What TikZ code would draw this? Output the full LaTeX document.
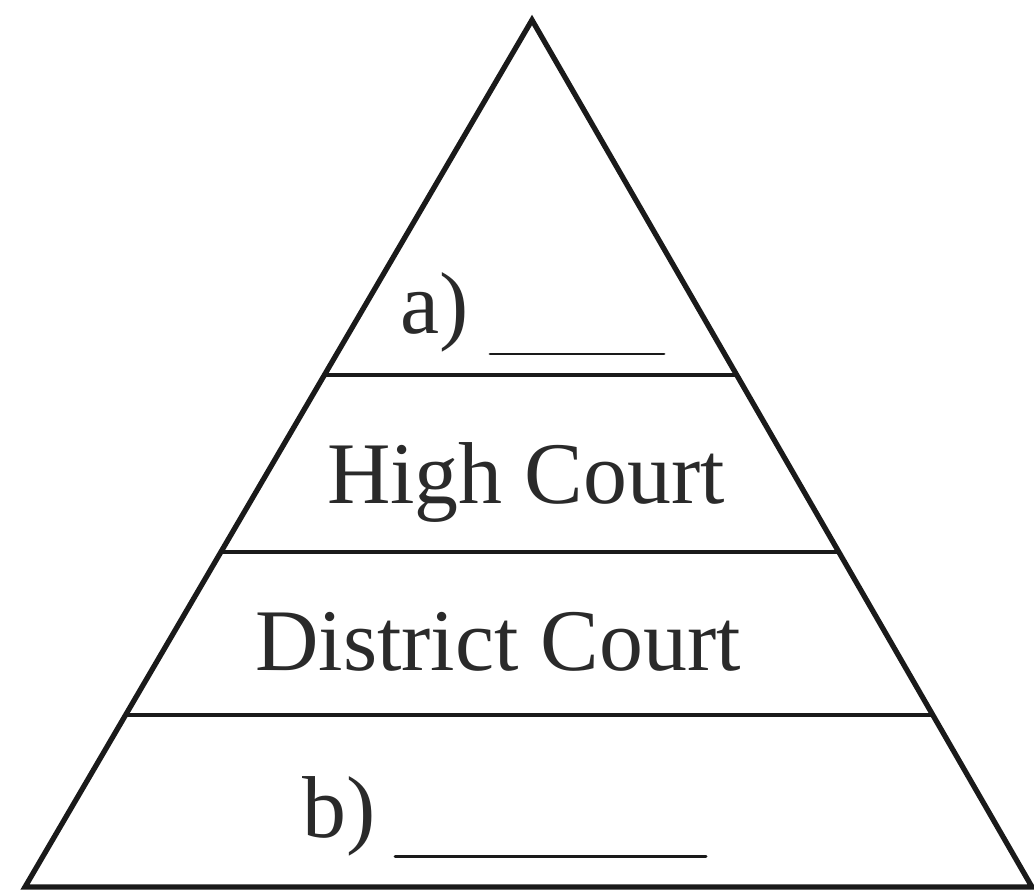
\documentclass[tikz,border=0pt]{standalone}
\usepackage{fontspec}
\setmainfont{Liberation Serif}
\usepackage{tikz}
\usetikzlibrary{positioning,calc}
\usepackage{xcolor}
\definecolor{inkdark}{HTML}{1A1A1A}
\definecolor{textdark}{HTML}{2A2A2A}

\tikzset{
  courtlbl/.style={inkdark,text=textdark,inner sep=0pt,font=\fontsize{50}{60}\selectfont},
  blankline/.style={inkdark,line width=1.7pt,line cap=round}
}

\begin{document}
\begin{tikzpicture}[x=0.02cm,y=-0.02cm]
        \useasboundingbox (0,0) rectangle (1034,895);
        % Piramide
        \coordinate (apex) at (532,20);
        \coordinate (bl) at (25,887);
        \coordinate (br) at (1032,887);
        \draw[inkdark,line width=3pt,line join=miter](bl)--(apex)--(br)--cycle;
        % Niveles
        \foreach \t in {0.5905,0.3864,0.1984}{
          \draw[inkdark,line width=2.6pt]($(bl)!\t!(apex)$)--($(br)!\t!(apex)$);}
        % Textos
        \node[courtlbl,anchor=base west](lvla)at(400,333){a)};
        \node[courtlbl,anchor=base](high)at(526,503){High Court};
        \node[courtlbl,anchor=base](dist)at(498,670){District Court};
        \node[courtlbl,anchor=base west](lvlb)at(302,837){b)};
        % Espacios en blanco
        \draw[blankline](490,354)--(664,354);
        \draw[blankline](395,856)--(706,856);
      \end{tikzpicture}
\end{document}
